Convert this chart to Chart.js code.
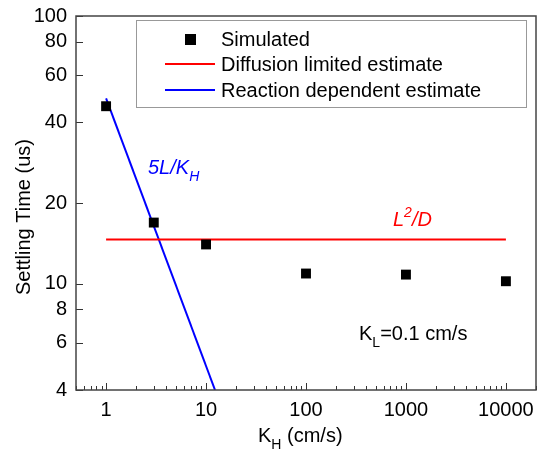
<!DOCTYPE html>
<html>
<head>
<meta charset="utf-8">
<script src="https://cdn.jsdelivr.net/npm/chart.js@4/dist/chart.umd.min.js"></script>
<style>
  html, body { margin: 0; padding: 0; background: #fff; }
  #wrap { width: 547px; height: 456px; }
</style>
</head>
<body>
<div id="wrap"><canvas id="chart" width="547" height="456"></canvas></div>
<script>
// Data
const kH = [1, 3, 10, 100, 1000, 10000];
const settlingTime = [46, 16.9, 14.0, 10.9, 10.8, 10.2];
const diffusionX = [1, 10000];
const diffusionY = [14.6, 14.6];
const reactionX = [1, 12.3];
const reactionY = [49.2, 4];
const yTicks = [4, 6, 8, 10, 20, 40, 60, 80, 100];
const xDecades = [1, 10, 100, 1000, 10000];

const FONT = 'Liberation Sans, Arial, sans-serif';

function pairs(xs, ys) {
  return xs.map((x, i) => ({ x: x, y: ys[i] }));
}

// all 1..9 x 10^k ticks between 0.5 and 20000
const xTicks = [];
for (let e = -1; e <= 4; e++) {
  for (let m = 1; m <= 9; m++) {
    const v = m * Math.pow(10, e);
    if (v >= 0.5 && v <= 20000) xTicks.push(+v.toPrecision(3));
  }
}

// frame, inward ticks, legend and text labels
const decorations = {
  id: 'decorations',
  afterDraw(chart) {
    const ctx = chart.ctx;
    const a = chart.chartArea;
    const xs = chart.scales.x, ys = chart.scales.y;
    ctx.save();

    // ticks
    ctx.strokeStyle = '#333';
    ctx.lineWidth = 1;
    xTicks.forEach(v => {
      const px = Math.round(xs.getPixelForValue(v)) + 0.5;
      const len = xDecades.includes(v) ? 7 : 4;
      ctx.beginPath();
      ctx.moveTo(px, a.bottom);
      ctx.lineTo(px, a.bottom - len);
      ctx.stroke();
    });
    yTicks.forEach(v => {
      const py = Math.round(ys.getPixelForValue(v)) + 0.5;
      ctx.beginPath();
      ctx.moveTo(a.left, py);
      ctx.lineTo(a.left + 7, py);
      ctx.stroke();
    });

    // frame
    ctx.strokeStyle = '#444';
    ctx.lineWidth = 1.5;
    ctx.strokeRect(a.left, a.top, a.right - a.left, a.bottom - a.top);

    // legend
    ctx.fillStyle = '#fff';
    ctx.fillRect(136.5, 20.5, 390, 87);
    ctx.strokeStyle = '#999';
    ctx.lineWidth = 1;
    ctx.strokeRect(136.5, 20.5, 390, 87);
    ctx.font = '20px ' + FONT;
    ctx.textBaseline = 'middle';
    ctx.textAlign = 'left';
    const rows = [39, 64, 90];
    chart.data.datasets.forEach((ds, i) => {
      const y = rows[i];
      if (ds.showLine === false) {
        ctx.fillStyle = ds.backgroundColor;
        ctx.fillRect(185, y - 5, 11, 11);
      } else {
        ctx.strokeStyle = ds.borderColor;
        ctx.lineWidth = 2;
        ctx.beginPath();
        ctx.moveTo(165, y);
        ctx.lineTo(215, y);
        ctx.stroke();
      }
      ctx.fillStyle = '#000';
      ctx.fillText(ds.label, 221, y + 1);
    });

    // text with sub/superscripts
    function rich(parts, x, y, color, italic) {
      ctx.fillStyle = color;
      ctx.textBaseline = 'alphabetic';
      parts.forEach(p => {
        const size = p.s ? 14 : 20;
        ctx.font = (italic ? 'italic ' : '') + size + 'px ' + FONT;
        ctx.fillText(p.t, x, y + (p.s || 0));
        x += ctx.measureText(p.t).width;
      });
    }
    rich([{ t: '5L/K' }, { t: 'H', s: 7 }], 148, 174, '#0000ff', true);
    rich([{ t: 'L' }, { t: '2', s: -9 }, { t: '/D' }], 393, 226, '#ff0000', true);
    rich([{ t: 'K' }, { t: 'L', s: 7 }, { t: '=0.1 cm/s' }], 359, 340, '#000', false);
    rich([{ t: 'K' }, { t: 'H', s: 7 }, { t: ' (cm/s)' }], 258, 442, '#000', false);

    // y title
    ctx.translate(24, 217);
    ctx.rotate(-Math.PI / 2);
    ctx.font = '20px ' + FONT;
    ctx.textAlign = 'center';
    ctx.textBaseline = 'middle';
    ctx.fillStyle = '#000';
    ctx.fillText('Settling Time (us)', 0, 0);
    ctx.restore();
  }
};

const ctxChart = document.getElementById('chart').getContext('2d');
const chart = new Chart(ctxChart, {
  type: 'scatter',
  data: {
    datasets: [{
      label: 'Simulated',
      data: pairs(kH, settlingTime),
      showLine: false,
      pointStyle: 'rect',
      pointRadius: 7,
      backgroundColor: '#000',
      borderColor: '#000',
      borderWidth: 0
    }, {
      label: 'Diffusion limited estimate',
      data: pairs(diffusionX, diffusionY),
      showLine: true,
      pointRadius: 0,
      borderColor: '#ff0000',
      borderWidth: 2
    }, {
      label: 'Reaction dependent estimate',
      data: pairs(reactionX, reactionY),
      showLine: true,
      pointRadius: 0,
      borderColor: '#0000ff',
      borderWidth: 2
    }]
  },
  options: {
    responsive: false,
    animation: false,
    devicePixelRatio: 1,
    layout: { padding: { top: 16, right: 11, left: 0, bottom: 0 } },
    plugins: {
      legend: { display: false },
      tooltip: { enabled: false }
    },
    scales: {
      x: {
        type: 'logarithmic',
        min: 0.5,
        max: 20000,
        afterBuildTicks: s => { s.ticks = xTicks.map(v => ({ value: v })); },
        afterFit: s => { s.height = 66; s.paddingLeft = 0; s.paddingRight = 0; },
        grid: { display: false, drawTicks: false },
        border: { display: false },
        ticks: {
          autoSkip: false,
          maxRotation: 0,
          padding: 8,
          color: '#000',
          font: { family: FONT, size: 20 },
          callback: v => xDecades.includes(v) ? String(v) : ''
        }
      },
      y: {
        type: 'logarithmic',
        min: 4,
        max: 100,
        afterBuildTicks: s => { s.ticks = yTicks.map(v => ({ value: v })); },
        afterFit: s => { s.width = 76; s.paddingTop = 0; s.paddingBottom = 0; },
        grid: { display: false, drawTicks: false },
        border: { display: false },
        ticks: {
          autoSkip: false,
          padding: 9,
          color: '#000',
          font: { family: FONT, size: 20 },
          callback: v => String(v)
        }
      }
    }
  },
  plugins: [decorations]
});
</script>
</body>
</html>
